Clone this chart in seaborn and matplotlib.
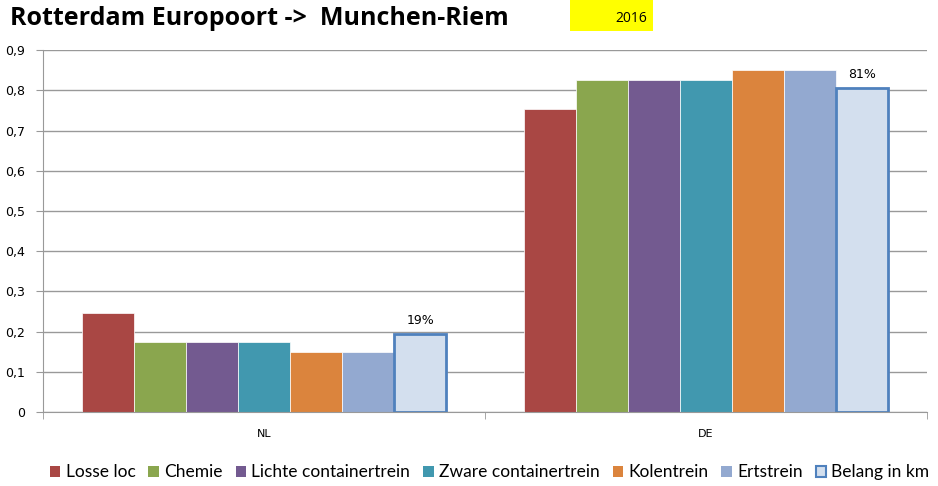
import pandas as pd
import matplotlib.pyplot as plt
import matplotlib.ticker as mticker
from matplotlib.patches import Patch
import seaborn as sns

# Data
categories = ["NL", "DE"]
series = ["Losse loc", "Chemie", "Lichte containertrein", "Zware containertrein",
          "Kolentrein", "Ertstrein", "Belang in km"]
nl_values = [0.246, 0.174, 0.174, 0.174, 0.149, 0.149, 0.194]
de_values = [0.754, 0.826, 0.826, 0.826, 0.851, 0.851, 0.806]
belang_labels = ["19%", "81%"]
colors = ["#A94744", "#8AA64E", "#735A90", "#4198AF", "#DB843D", "#93A9D0", "#D3DFEE"]

rows = []
for cat, vals in zip(categories, [nl_values, de_values]):
    for s, v in zip(series, vals):
        rows.append({"land": cat, "serie": s, "waarde": v})
df = pd.DataFrame(rows)

sns.set_style("white")
plt.rcParams["font.family"] = ["DejaVu Sans"]
plt.rcParams["text.color"] = "black"
plt.rcParams["xtick.labelcolor"] = "black"
plt.rcParams["ytick.labelcolor"] = "black"

fig = plt.figure(figsize=(9.38, 4.86), dpi=100)
ax = fig.add_axes([0.046, 0.152, 0.942, 0.745])

sns.barplot(data=df, x="land", y="waarde", hue="serie", order=categories,
            hue_order=series, palette=colors, saturation=1, width=0.825, gap=0,
            edgecolor="white", linewidth=0.5, legend=False, ax=ax)

# Belang bars get a blue outline
belang_bars = ax.containers[-1]
for bar in belang_bars:
    bar.set_edgecolor("#4F81BD")
    bar.set_linewidth(2)
ax.bar_label(belang_bars, labels=belang_labels, padding=5, fontsize=9, color="black")

ax.set_xlim(-0.5, 1.5)
ax.set_ylim(0, 0.9)
ax.yaxis.set_major_locator(mticker.MultipleLocator(0.1))
ax.yaxis.set_major_formatter(mticker.FuncFormatter(
    lambda v, p: "0" if abs(v) < 1e-9 else f"{v:.1f}".replace(".", ",")))
ax.grid(axis="y", color="#999999", linewidth=1)
ax.set_axisbelow(True)
ax.set_xlabel("")
ax.set_ylabel("")

for side in ["top", "right"]:
    ax.spines[side].set_visible(False)
for side in ["left", "bottom"]:
    ax.spines[side].set_color("#999999")

ax.tick_params(axis="y", labelsize=9, length=5, color="#999999", direction="out",
               left=True, pad=8, labelcolor="black")
ax.tick_params(axis="x", labelsize=8, length=0, pad=12, labelcolor="black")
ax.xaxis.set_minor_locator(mticker.FixedLocator([-0.5, 0.5, 1.5]))
ax.tick_params(axis="x", which="minor", length=5, color="#999999", bottom=True)

# Title and year box
fig.text(0.011, 0.962, "Rotterdam Europoort ->  Munchen-Riem", fontsize=18,
         fontweight="bold", family=["Open Sans", "DejaVu Sans"], va="center",
         color="black")
fig.patches.append(plt.Rectangle((0.608, 0.937), 0.088, 0.063, transform=fig.transFigure,
                                 facecolor="#FFFF00", edgecolor="none"))
fig.text(0.690, 0.962, "2016", fontsize=10, ha="right", va="center",
         family=["Open Sans", "DejaVu Sans"], color="black")

# Legend
handles = [Patch(facecolor=c, edgecolor=("#4F81BD" if s == "Belang in km" else c),
                 linewidth=(1.5 if s == "Belang in km" else 0))
           for s, c in zip(series, colors)]
fig.legend(handles, series, loc="center", bbox_to_anchor=(0.522, 0.028), ncol=7,
           frameon=False, handlelength=0.6, handleheight=0.6,
           handletextpad=0.3, columnspacing=0.75, labelcolor="black",
           prop={"family": "Lato", "size": 12.5})

plt.savefig("out.png", dpi=100)
